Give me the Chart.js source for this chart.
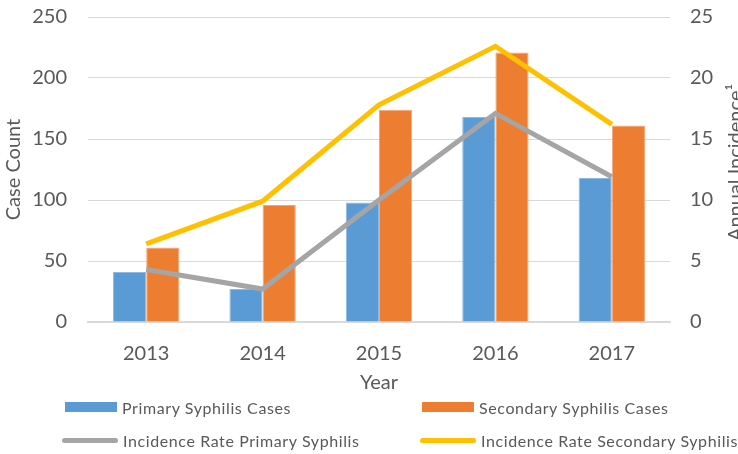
<!DOCTYPE html>
<html>
<head>
<meta charset="utf-8">
<script src="https://cdn.jsdelivr.net/npm/chart.js@4/dist/chart.umd.min.js"></script>
<style>
  body { margin: 0; background: #fff; }
  #wrap { position: relative; width: 738px; height: 454px; overflow: hidden; font-family: Lato, sans-serif; }
  .leg { position: absolute; font-size: 16px; letter-spacing: 0.6px; color: #595959; white-space: nowrap; display: flex; align-items: center; }
  .swatch { display: inline-block; margin-right: 5px; }
</style>
</head>
<body>
<div id="wrap">
  <canvas id="myChart" width="738" height="454"></canvas>
  <div id="legend"></div>
</div>
<script>
const years = ['2013', '2014', '2015', '2016', '2017'];
const primaryCases = [41, 27, 98, 168, 118];
const secondaryCases = [61, 96, 174, 221, 161];
const primaryRate = [4.3, 2.7, 10.0, 17.1, 11.9];
const secondaryRate = [6.4, 9.9, 17.8, 22.6, 16.2];

const tickColor = '#595959';
const gridColor = '#D9D9D9';

// right axis title, reads bottom to top and runs off the edge like the original
const rightTitle = {
  id: 'rightTitle',
  afterDraw(chart) {
    const ctx = chart.ctx;
    const area = chart.chartArea;
    ctx.save();
    ctx.translate(742, (area.top + area.bottom) / 2 - 7);
    ctx.rotate(-Math.PI / 2);
    ctx.font = '20px Lato';
    ctx.fillStyle = tickColor;
    ctx.textAlign = 'center';
    ctx.textBaseline = 'alphabetic';
    ctx.fillText('Annual Incidence\u00B9', 0, 0);
    ctx.restore();
  }
};

function noPad(scale) {
  scale.paddingTop = 0;
  scale.paddingBottom = 0;
}

const data = {
  labels: years,
  datasets: [
    {
      type: 'line',
      label: 'Incidence Rate Primary Syphilis',
      data: primaryRate,
      yAxisID: 'y1',
      borderColor: '#A5A5A5',
      backgroundColor: '#A5A5A5',
      borderWidth: 5,
      pointRadius: 0,
      tension: 0,
      order: 1
    },
    {
      type: 'line',
      label: 'Incidence Rate Secondary Syphilis',
      data: secondaryRate,
      yAxisID: 'y1',
      borderColor: '#FFC000',
      backgroundColor: '#FFC000',
      borderWidth: 5,
      pointRadius: 0,
      tension: 0,
      order: 0
    },
    {
      type: 'bar',
      label: 'Primary Syphilis Cases',
      data: primaryCases,
      yAxisID: 'y',
      backgroundColor: '#5B9BD5',
      borderColor: '#8DB9E4',
      borderWidth: 1,
      barPercentage: 1,
      categoryPercentage: 0.57,
      order: 2
    },
    {
      type: 'bar',
      label: 'Secondary Syphilis Cases',
      data: secondaryCases,
      yAxisID: 'y',
      backgroundColor: '#ED7D31',
      borderColor: '#F3A676',
      borderWidth: 1,
      barPercentage: 1,
      categoryPercentage: 0.57,
      order: 2
    }
  ]
};

const config = {
  data: data,
  plugins: [rightTitle],
  options: {
    responsive: false,
    animation: false,
    layout: { padding: { top: 17, bottom: 58, left: 0, right: 0 } },
    plugins: {
      legend: { display: false },
      tooltip: { enabled: false }
    },
    scales: {
      x: {
        grid: { display: false, drawTicks: false },
        border: { color: gridColor, width: 2 },
        ticks: { color: tickColor, font: { family: 'Lato', size: 20 }, padding: 20 },
        title: { display: true, text: 'Year', color: tickColor, font: { family: 'Lato', size: 20 }, padding: { top: 0, bottom: 1 } },
        afterFit(scale) { scale.height = 74; }
      },
      y: {
        position: 'left',
        min: 0,
        max: 250,
        ticks: { stepSize: 50, color: tickColor, font: { family: 'Lato', size: 20 }, padding: 21 },
        grid: { color: gridColor, drawTicks: false },
        border: { display: false },
        title: { display: true, text: 'Case Count', color: tickColor, font: { family: 'Lato', size: 20 }, padding: { top: 2, bottom: 0 } },
        afterFit(scale) { scale.width = 88; noPad(scale); }
      },
      y1: {
        position: 'right',
        min: 0,
        max: 25,
        ticks: { stepSize: 5, color: tickColor, font: { family: 'Lato', size: 20 }, padding: 20 },
        grid: { display: false, drawTicks: false },
        border: { display: false },
        afterFit(scale) { scale.width = 68; noPad(scale); }
      }
    }
  }
};

const myChart = new Chart(document.getElementById('myChart'), config);

// html legend, two columns like the original
const legendOrder = [2, 3, 0, 1];
const legendPos = [[65, 397], [422, 397], [62, 430], [420, 430]];
const legendEl = document.getElementById('legend');
legendOrder.forEach(function (idx, i) {
  const ds = data.datasets[idx];
  const item = document.createElement('div');
  item.className = 'leg';
  item.style.left = legendPos[i][0] + 'px';
  item.style.top = legendPos[i][1] + 'px';
  item.style.height = '20px';
  const sw = document.createElement('span');
  sw.className = 'swatch';
  sw.style.background = ds.backgroundColor;
  if (ds.type === 'bar') {
    sw.style.width = '52px';
    sw.style.height = '10px';
  } else {
    sw.style.width = '56px';
    sw.style.height = '5px';
    sw.style.borderRadius = '3px';
  }
  const txt = document.createElement('span');
  txt.textContent = ds.label;
  item.appendChild(sw);
  item.appendChild(txt);
  legendEl.appendChild(item);
});
</script>
</body>
</html>
